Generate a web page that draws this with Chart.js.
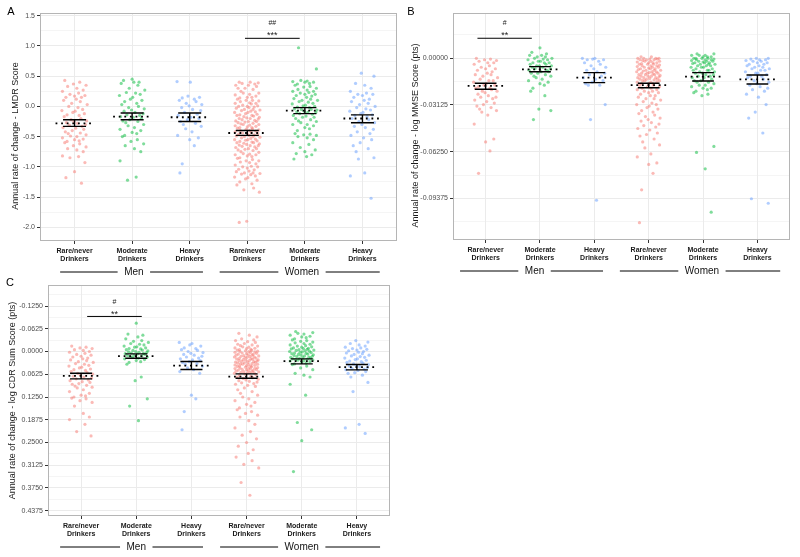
<!DOCTYPE html>
<html>
<head>
<meta charset="utf-8">
<script src="https://cdn.jsdelivr.net/npm/chart.js@4.4.1/dist/chart.umd.min.js"></script>
<style>
  body { margin: 0; background: #fff; width: 800px; height: 557px; position: relative; overflow: hidden; }
  canvas { position: absolute; }
</style>
</head>
<body>
<canvas id="chartA" width="400" height="280" style="left:0;top:0"></canvas>
<canvas id="chartB" width="400" height="280" style="left:400px;top:0"></canvas>
<canvas id="chartC" width="400" height="285" style="left:0;top:272px"></canvas>
<script>
const FONT = "'Liberation Sans', Arial, sans-serif";

const CATEGORIES = [
  ["Rare/never", "Drinkers"], ["Moderate", "Drinkers"], ["Heavy", "Drinkers"],
  ["Rare/never", "Drinkers"], ["Moderate", "Drinkers"], ["Heavy", "Drinkers"],
];
const COLORS = ["rgba(248,118,109,0.5)", "rgba(0,186,56,0.5)", "rgba(97,156,255,0.5)"];
// fixed horizontal spread of the points inside a category (category units)
const JITTER = [-0.17, 0.09, -0.02, 0.20, -0.12, 0.04, 0.15, -0.21, 0.07, -0.08, 0.18, 0.00, -0.15, 0.12,
  0.03, -0.19, 0.10, -0.05, 0.22, -0.10, 0.06, 0.14, -0.22, 0.01, -0.03, 0.17, -0.13, 0.08, -0.18, 0.11,
  -0.06, 0.21, -0.01, -0.14, 0.05, 0.19, -0.09, 0.13, -0.20, 0.02, 0.16, -0.04, -0.16, 0.10, -0.11, 0.20,
  -0.07, 0.04, -0.21, 0.15, 0.00, 0.08, -0.13];

// ---- A: LMDR ----
const lmdrMenRare = [.43,.40,.37,.35,.33,.30,.27,.25,.22,.20,.18,.17,.15,.15,.12,.10,.08,.05,.03,0,-.02,-.05,-.07,-.08,-.10,-.12,-.14,-.15,-.17,-.20,-.22,-.24,-.25,-.27,-.28,-.30,-.31,-.33,-.35,-.36,-.38,-.40,-.42,-.44,-.45,-.47,-.49,-.50,-.52,-.54,-.55,-.57,-.58,-.60,-.62,-.65,-.67,-.70,-.72,-.75,-.82,-.83,-.85,-.93,-1.08,-1.18,-1.27];
const lmdrMenMod = [.45,.43,.40,.40,.38,.35,.30,.27,.23,.22,.20,.18,.15,.12,.10,.08,.05,.03,0,-.02,-.04,-.06,-.08,-.10,-.12,-.14,-.15,-.17,-.18,-.20,-.22,-.24,-.25,-.27,-.30,-.32,-.35,-.38,-.40,-.43,-.45,-.48,-.50,-.55,-.58,-.62,-.65,-.70,-.75,-.90,-1.17,-1.22];
const lmdrMenHeavy = [.41,.40,.17,.15,.14,.12,.10,.08,.05,.03,.01,-.02,-.05,-.07,-.10,-.13,-.15,-.18,-.20,-.22,-.25,-.28,-.30,-.33,-.37,-.42,-.48,-.52,-.55,-.65,-.95,-1.10];
const lmdrWomenRare = [.40,.40,.39,.38,.37,.35,.35,.33,.30,.30,.28,.25,.22,.22,.20,.19,.17,.15,.15,.14,.12,.10,.10,.09,.08,.06,.05,.05,.04,.02,.01,0,0,-.01,-.02,-.03,-.05,-.05,-.06,-.07,-.08,-.09,-.10,-.10,-.12,-.13,-.14,-.15,-.15,-.16,-.17,-.18,-.19,-.20,-.20,-.21,-.22,-.23,-.24,-.25,-.25,-.26,-.27,-.28,-.29,-.30,-.30,-.31,-.32,-.33,-.34,-.35,-.35,-.36,-.37,-.38,-.39,-.40,-.40,-.41,-.42,-.43,-.44,-.45,-.45,-.46,-.47,-.48,-.49,-.50,-.50,-.51,-.52,-.53,-.54,-.55,-.55,-.56,-.57,-.58,-.59,-.60,-.60,-.61,-.62,-.63,-.64,-.65,-.65,-.66,-.67,-.68,-.70,-.70,-.71,-.72,-.73,-.75,-.76,-.78,-.79,-.80,-.80,-.82,-.83,-.85,-.86,-.88,-.90,-.90,-.92,-.93,-.95,-.97,-.99,-1.00,-1.00,-1.02,-1.04,-1.05,-1.07,-1.08,-1.10,-1.10,-1.11,-1.12,-1.13,-1.15,-1.17,-1.18,-1.20,-1.22,-1.25,-1.28,-1.30,-1.35,-1.38,-1.42,-1.90,-1.92];
const lmdrWomenMod = [.97,.62,.43,.42,.41,.40,.40,.38,.37,.35,.33,.32,.30,.28,.27,.25,.25,.23,.22,.20,.20,.18,.17,.15,.13,.12,.10,.10,.08,.07,.05,.04,.02,.01,0,-.01,-.02,-.04,-.05,-.05,-.06,-.08,-.09,-.10,-.10,-.12,-.13,-.15,-.16,-.18,-.18,-.20,-.22,-.24,-.25,-.27,-.30,-.30,-.32,-.35,-.37,-.40,-.45,-.46,-.47,-.48,-.50,-.52,-.55,-.60,-.63,-.68,-.72,-.75,-.78,-.80,-.83,-.87];
const lmdrWomenHeavy = [.55,.50,.38,.35,.30,.25,.22,.20,.20,.18,.15,.12,.10,.08,.05,.03,0,-.02,-.04,-.06,-.08,-.10,-.12,-.14,-.15,-.17,-.20,-.22,-.25,-.27,-.30,-.33,-.35,-.38,-.42,-.45,-.48,-.52,-.55,-.60,-.65,-.70,-.75,-.85,-.87,-1.10,-1.15,-1.52];
const lmdrMean = [-0.28, -0.17, -0.18, -0.44, -0.07, -0.20];
const lmdrLow = [-0.33, -0.22, -0.25, -0.48, -0.12, -0.27];
const lmdrHigh = [-0.22, -0.11, -0.11, -0.40, -0.02, -0.14];
const lmdrTicks = [-2.0, -1.5, -1.0, -0.5, 0.0, 0.5, 1.0, 1.5];

// ---- B: log MMSE ----
const mmseMenRare = [0,-.0005,-.001,-.0015,-.002,-.003,-.003,-.004,-.005,-.006,-.007,-.007,-.008,-.009,-.010,-.011,-.011,-.012,-.013,-.014,-.015,-.015,-.016,-.017,-.018,-.018,-.019,-.020,-.020,-.021,-.022,-.022,-.023,-.024,-.025,-.026,-.026,-.027,-.028,-.029,-.030,-.031,-.032,-.033,-.034,-.035,-.036,-.038,-.044,-.054,-.056,-.062,-.077];
const mmseMenMod = [.007,.004,.003,.002,.002,.001,.001,0,0,-.0005,-.001,-.001,-.002,-.002,-.003,-.003,-.003,-.004,-.004,-.005,-.005,-.005,-.006,-.006,-.007,-.007,-.008,-.008,-.009,-.009,-.010,-.010,-.011,-.012,-.012,-.013,-.014,-.015,-.016,-.017,-.018,-.020,-.022,-.025,-.034,-.035,-.041];
const mmseMenHeavy = [0,0,-.0005,-.001,-.001,-.002,-.003,-.004,-.005,-.006,-.007,-.008,-.009,-.010,-.011,-.012,-.013,-.014,-.015,-.016,-.017,-.018,-.018,-.031,-.041,-.095];
const mmseWomenRare = [.001,.001,0,0,0,0,-.0005,-.0005,-.001,-.001,-.001,-.0015,-.002,-.002,-.002,-.0025,-.003,-.003,-.003,-.0035,-.004,-.004,-.004,-.0045,-.005,-.005,-.005,-.0055,-.006,-.006,-.006,-.0065,-.007,-.007,-.007,-.0075,-.008,-.008,-.008,-.0085,-.009,-.009,-.009,-.0095,-.010,-.010,-.010,-.0105,-.011,-.011,-.011,-.0115,-.012,-.012,-.012,-.0125,-.013,-.013,-.013,-.0135,-.014,-.014,-.014,-.0145,-.015,-.015,-.015,-.016,-.016,-.016,-.017,-.017,-.017,-.018,-.018,-.019,-.019,-.020,-.020,-.021,-.021,-.022,-.022,-.023,-.023,-.024,-.025,-.025,-.026,-.027,-.027,-.028,-.029,-.030,-.031,-.031,-.032,-.033,-.034,-.035,-.036,-.037,-.038,-.039,-.040,-.041,-.042,-.043,-.044,-.045,-.046,-.047,-.048,-.050,-.051,-.052,-.054,-.056,-.058,-.060,-.064,-.066,-.070,-.071,-.077,-.088,-.110];
const mmseWomenMod = [.003,.003,.002,.002,.002,.001,.001,.001,0,0,0,0,-.0005,-.001,-.001,-.001,-.0015,-.002,-.002,-.002,-.0025,-.003,-.003,-.003,-.0035,-.004,-.004,-.004,-.005,-.005,-.005,-.006,-.006,-.006,-.007,-.007,-.008,-.008,-.008,-.009,-.009,-.010,-.010,-.011,-.011,-.012,-.012,-.013,-.013,-.014,-.015,-.015,-.016,-.016,-.017,-.018,-.018,-.019,-.020,-.020,-.021,-.022,-.023,-.024,-.025,-.059,-.063,-.074,-.103];
const mmseWomenHeavy = [0,0,-.0005,-.001,-.001,-.0015,-.002,-.002,-.003,-.003,-.004,-.004,-.005,-.005,-.006,-.006,-.007,-.007,-.008,-.008,-.009,-.010,-.010,-.011,-.012,-.012,-.013,-.014,-.015,-.016,-.017,-.018,-.019,-.020,-.021,-.022,-.024,-.026,-.031,-.036,-.040,-.050,-.094,-.097];
const mmseMean = [-0.0185, -0.0074, -0.0130, -0.0179, -0.0123, -0.0141];
const mmseLow = [-0.0207, -0.0090, -0.0163, -0.0197, -0.0152, -0.0172];
const mmseHigh = [-0.0167, -0.0056, -0.0096, -0.0167, -0.0096, -0.0112];
const mmseTicks = [-0.09375, -0.0625, -0.03125, 0];

// ---- C: log CDR Sum ----
const cdrMenRare = [-.015,-.012,-.010,-.008,-.005,-.003,0,.002,.005,.008,.010,.013,.015,.018,.020,.023,.025,.028,.030,.033,.035,.038,.040,.043,.045,.048,.050,.052,.055,.058,.060,.062,.065,.068,.070,.073,.075,.078,.080,.083,.085,.088,.090,.093,.095,.098,.100,.105,.110,.115,.120,.122,.125,.128,.130,.135,.140,.150,.170,.180,.187,.200,.220,.232];
const cdrMenMod = [-.078,-.048,-.045,-.040,-.035,-.030,-.028,-.025,-.022,-.020,-.018,-.015,-.013,-.012,-.010,-.008,-.007,-.005,-.004,-.003,-.002,0,.001,.002,.003,.004,.005,.006,.007,.008,.010,.011,.012,.013,.015,.016,.018,.020,.022,.025,.028,.030,.035,.070,.080,.130,.150,.190];
const cdrMenHeavy = [-.025,-.022,-.018,-.015,-.010,-.008,-.005,-.003,0,.003,.005,.008,.010,.013,.015,.018,.020,.023,.025,.028,.030,.033,.035,.040,.045,.050,.055,.060,.120,.130,.165,.215];
const cdrWomenRare = [-.050,-.045,-.040,-.035,-.032,-.030,-.027,-.025,-.022,-.020,-.018,-.016,-.015,-.013,-.012,-.010,-.009,-.008,-.006,-.005,-.004,-.003,-.002,-.001,0,0,.001,.002,.003,.004,.005,.006,.007,.008,.009,.010,.010,.011,.012,.013,.014,.015,.015,.016,.017,.018,.019,.020,.020,.021,.022,.023,.024,.025,.025,.026,.027,.028,.029,.030,.030,.031,.032,.033,.034,.035,.035,.036,.037,.038,.039,.040,.040,.041,.042,.043,.044,.045,.045,.046,.047,.048,.049,.050,.050,.051,.052,.053,.054,.055,.055,.056,.057,.058,.059,.060,.060,.062,.064,.066,.068,.070,.072,.074,.076,.078,.080,.082,.084,.086,.088,.090,.093,.096,.100,.105,.110,.115,.120,.125,.130,.135,.140,.145,.150,.155,.160,.165,.170,.175,.180,.190,.200,.210,.220,.230,.240,.250,.260,.270,.280,.290,.300,.310,.320,.360,.395];
const cdrWomenMod = [-.055,-.052,-.050,-.048,-.045,-.042,-.040,-.038,-.035,-.032,-.030,-.028,-.026,-.024,-.022,-.020,-.018,-.016,-.015,-.013,-.012,-.010,-.009,-.008,-.007,-.006,-.005,-.004,-.003,-.002,-.001,0,.001,.002,.003,.004,.005,.006,.007,.008,.009,.010,.011,.012,.013,.014,.015,.016,.017,.018,.019,.020,.021,.022,.023,.024,.025,.026,.028,.030,.032,.034,.036,.040,.045,.050,.060,.065,.070,.090,.120,.195,.215,.245,.330];
const cdrWomenHeavy = [-.030,-.026,-.022,-.018,-.015,-.012,-.010,-.008,-.006,-.004,-.002,0,.002,.004,.006,.008,.010,.012,.014,.016,.018,.020,.022,.024,.026,.028,.030,.032,.034,.036,.038,.040,.042,.044,.046,.048,.050,.052,.055,.058,.060,.065,.070,.085,.110,.200,.210,.225];
const cdrMean = [0.0669, 0.0129, 0.0385, 0.0688, 0.0266, 0.0431];
const cdrLow = [0.0597, 0.0064, 0.0275, 0.0615, 0.0202, 0.0358];
const cdrHigh = [0.0752, 0.0184, 0.0496, 0.0735, 0.0339, 0.0505];
const cdrTicks = [-0.125, -0.0625, 0, 0.0625, 0.125, 0.1875, 0.25, 0.3125, 0.375, 0.4375];

// draws the summaries, brackets, group labels, titles
const overlayPlugin = {
  id: "overlay",
  afterDatasetsDraw(chart, args, o) {
    const { ctx, chartArea: a, scales: { x, y } } = chart;
    ctx.save();
    ctx.strokeStyle = "#b5b5b5";
    ctx.lineWidth = 1;
    ctx.strokeRect(a.left + 0.5, a.top + 0.5, a.width - 1, a.height - 1);

    o.mean.forEach((m, i) => {
      const c = i + 1;
      const yl = y.getPixelForValue(o.low[i]);
      const yh = y.getPixelForValue(o.high[i]);
      ctx.strokeStyle = "#000";
      ctx.setLineDash([]);
      ctx.lineWidth = 1.4;
      ctx.beginPath();
      [yl, yh].forEach((py) => {
        ctx.moveTo(x.getPixelForValue(c - 0.2), py);
        ctx.lineTo(x.getPixelForValue(c + 0.2), py);
      });
      ctx.moveTo(x.getPixelForValue(c), yl);
      ctx.lineTo(x.getPixelForValue(c), yh);
      ctx.stroke();
      const pm = y.getPixelForValue(m);
      ctx.setLineDash([1.8, 3.8]);
      ctx.lineWidth = 1.8;
      ctx.beginPath();
      ctx.moveTo(x.getPixelForValue(c - 0.33), pm);
      ctx.lineTo(x.getPixelForValue(c + 0.33), pm);
      ctx.stroke();
    });
    ctx.setLineDash([]);

    // significance bracket
    const s = o.sig;
    const by = y.getPixelForValue(s.y);
    ctx.lineWidth = 1;
    ctx.beginPath();
    ctx.moveTo(x.getPixelForValue(s.from), by);
    ctx.lineTo(x.getPixelForValue(s.to), by);
    ctx.stroke();
    const mid = x.getPixelForValue((s.from + s.to) / 2);
    ctx.fillStyle = "#222";
    ctx.textAlign = "center";
    ctx.textBaseline = "middle";
    ctx.font = "9px " + FONT;
    ctx.fillText(s.stars, mid, y.getPixelForValue(s.starY) + 2);
    ctx.font = "7px " + FONT;
    ctx.fillText(s.hash, mid, y.getPixelForValue(s.hashY));

    // Men / Women group labels
    const gy = a.bottom + 31;
    ctx.font = "10px " + FONT;
    ctx.fillStyle = "#111";
    ctx.strokeStyle = "#000";
    o.groups.forEach((g) => {
      const cx = x.getPixelForValue(g.at);
      const half = ctx.measureText(g.label).width / 2 + 6.5;
      ctx.beginPath();
      ctx.moveTo(x.getPixelForValue(g.from), gy);
      ctx.lineTo(cx - half, gy);
      ctx.moveTo(cx + half, gy);
      ctx.lineTo(x.getPixelForValue(g.to), gy);
      ctx.stroke();
      ctx.fillText(g.label, cx, gy);
    });

    // y title
    ctx.save();
    ctx.translate(o.titleX, (a.top + a.bottom) / 2 + o.titleDy);
    ctx.rotate(-Math.PI / 2);
    ctx.font = "9px " + FONT;
    ctx.fillStyle = "#1a1a1a";
    ctx.fillText(o.yTitle, 0, 0);
    ctx.restore();

    // panel letter
    ctx.font = "11px " + FONT;
    ctx.fillStyle = "#000";
    ctx.fillText(o.letter, o.letterX, o.letterY);
    ctx.restore();
  },
};

function buildPanel(id, p) {
  const isMajor = (v) => p.ticks.some((t) => Math.abs(t - v) < 1e-9);
  const step = p.ticks[1] - p.ticks[0];
  const datasets = p.series.map((vals, g) => ({
    data: vals.map((v, i) => ({ x: g + 1 + JITTER[(i + g * 11) % JITTER.length], y: v })),
    backgroundColor: COLORS[g % 3],
    borderWidth: 0,
    pointRadius: 1.6,
    pointHoverRadius: 0,
  }));
  return new Chart(document.getElementById(id), {
    type: "scatter",
    data: { datasets },
    options: {
      responsive: false,
      animation: false,
      events: [],
      layout: { padding: { top: 13, right: p.padRight, left: 0, bottom: 0 } },
      plugins: {
        legend: { display: false },
        tooltip: { enabled: false },
        overlay: p,
      },
      scales: {
        x: {
          type: "linear",
          min: 0.4,
          max: 6.6,
          afterBuildTicks: (sc) => { sc.ticks = CATEGORIES.map((_, i) => ({ value: i + 1 })); },
          afterFit: (sc) => { sc.height = p.xHeight; },
          border: { display: false },
          grid: { color: "#ebebeb", lineWidth: 1, tickLength: 3, tickColor: "#333" },
          ticks: {
            autoSkip: false, maxRotation: 0, minRotation: 0, padding: 3,
            color: "#1a1a1a",
            font: { family: FONT, size: 7, weight: "bold", lineHeight: 1.15 },
            callback: (v, i) => CATEGORIES[i],
          },
        },
        y: {
          min: p.yMin,
          max: p.yMax,
          reverse: !!p.reverse,
          afterBuildTicks: (sc) => {
            const t = [];
            p.ticks.forEach((v) => { t.push({ value: v }); t.push({ value: v + step / 2 }); });
            t.push({ value: p.ticks[0] - step / 2 });
            sc.ticks = t.filter((k) => k.value >= sc.min && k.value <= sc.max).sort((m, n) => m.value - n.value);
          },
          afterFit: (sc) => { sc.width = p.yWidth; },
          border: { display: false },
          grid: {
            color: "#ebebeb",
            lineWidth: (c) => (isMajor(c.tick.value) ? 1 : 0.5),
            tickLength: 3,
            tickColor: (c) => (isMajor(c.tick.value) ? "#333" : "rgba(0,0,0,0)"),
          },
          ticks: {
            autoSkip: false, padding: 2, color: "#4d4d4d",
            font: { family: FONT, size: 7 },
            callback: (v) => (isMajor(v) ? v.toFixed(p.digits) : ""),
          },
        },
      },
    },
    plugins: [overlayPlugin],
  });
}

buildPanel("chartA", {
  series: [lmdrMenRare, lmdrMenMod, lmdrMenHeavy, lmdrWomenRare, lmdrWomenMod, lmdrWomenHeavy],
  mean: lmdrMean, low: lmdrLow, high: lmdrHigh,
  ticks: lmdrTicks, digits: 1, yMin: -2.227, yMax: 1.545,
  yWidth: 40, padRight: 3, xHeight: 39,
  yTitle: "Annual rate of change - LMDR Score", titleX: 16, titleDy: 9,
  letter: "A", letterX: 11, letterY: 12,
  sig: { from: 3.96, to: 4.91, y: 1.126, stars: "***", starY: 1.21, hash: "##", hashY: 1.38 },
  groups: [{ label: "Men", from: 0.75, to: 3.23, at: 2.03 }, { label: "Women", from: 3.52, to: 6.30, at: 4.95 }],
});

buildPanel("chartB", {
  series: [mmseMenRare, mmseMenMod, mmseMenHeavy, mmseWomenRare, mmseWomenMod, mmseWomenHeavy],
  mean: mmseMean, low: mmseLow, high: mmseHigh,
  ticks: mmseTicks, digits: 5, yMin: -0.1216, yMax: 0.0303,
  yWidth: 53, padRight: 10, xHeight: 40,
  yTitle: "Annual rate of change - log MMSE Score (pts)", titleX: 16, titleDy: 9,
  letter: "B", letterX: 11, letterY: 12,
  sig: { from: 0.85, to: 1.85, y: 0.0134, stars: "**", starY: 0.0167, hash: "#", hashY: 0.0238 },
  groups: [{ label: "Men", from: 0.53, to: 3.16, at: 1.9 }, { label: "Women", from: 3.47, to: 6.42, at: 4.98 }],
});

buildPanel("chartC", {
  series: [cdrMenRare, cdrMenMod, cdrMenHeavy, cdrWomenRare, cdrWomenMod, cdrWomenHeavy],
  mean: cdrMean, low: cdrLow, high: cdrHigh,
  ticks: cdrTicks, digits: 4, yMin: -0.1828, yMax: 0.452, reverse: true,
  yWidth: 48, padRight: 10, xHeight: 41,
  yTitle: "Annual rate of change - log CDR Sum Score (pts)", titleX: 13, titleDy: 0,
  letter: "C", letterX: 10, letterY: 11,
  sig: { from: 1.11, to: 2.1, y: -0.0964, stars: "**", starY: -0.108, hash: "#", hashY: -0.1357 },
  groups: [{ label: "Men", from: 0.62, to: 3.21, at: 2.0 }, { label: "Women", from: 3.52, to: 6.42, at: 5.0 }],
});
</script>
</body>
</html>
